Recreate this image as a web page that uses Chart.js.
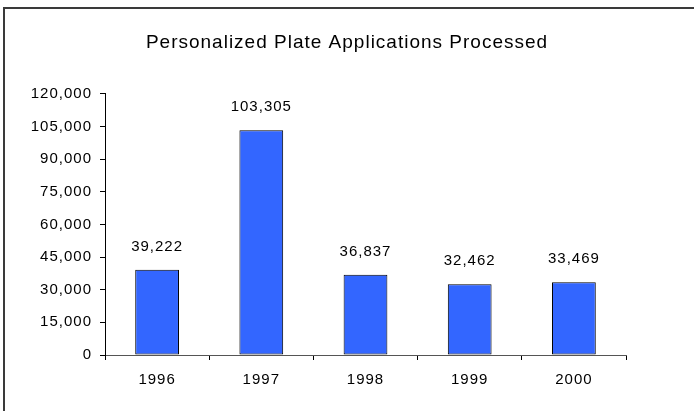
<!DOCTYPE html>
<html>
<head>
<meta charset="utf-8">
<script src="https://cdn.jsdelivr.net/npm/chart.js@4/dist/chart.umd.min.js"></script>
<style>
  html, body { margin: 0; padding: 0; background: #fff; }
  #wrap { width: 694px; height: 411px; position: relative; }
</style>
</head>
<body>
<div id="wrap"><canvas id="plates"></canvas></div>
<script>
// chart data
var years = ['1996', '1997', '1998', '1999', '2000'];
var applications = [39222, 103305, 36837, 32462, 33469];
var yTicks = [0, 15000, 30000, 45000, 60000, 75000, 90000, 105000, 120000];

var FONT = 'Liberation Sans, Arial, sans-serif';
var fmt = function (v) { return v.toLocaleString('en-US'); };

// frame lines + letter spacing like the old Excel export
var framePlugin = {
  id: 'frame',
  beforeDraw: function (chart) {
    var ctx = chart.ctx;
    ctx.letterSpacing = '1px';
    ctx.save();
    ctx.strokeStyle = '#3a3a3a';
    ctx.lineWidth = 2;
    ctx.beginPath();
    ctx.moveTo(4, 420);
    ctx.lineTo(4, 8);
    ctx.lineTo(700, 8);
    ctx.stroke();
    ctx.restore();
  },
  beforeTitleDraw: function (chart) {
    chart.ctx.letterSpacing = '1.4px';
  },
  afterTitleDraw: function (chart) {
    chart.ctx.letterSpacing = '1px';
  }
};

// value labels over the bars
var labelPlugin = {
  id: 'barLabels',
  afterDatasetsDraw: function (chart) {
    var ctx = chart.ctx;
    var meta = chart.getDatasetMeta(0);
    ctx.save();
    ctx.font = '15px ' + FONT;
    ctx.fillStyle = '#000';
    ctx.textAlign = 'center';
    ctx.textBaseline = 'middle';
    meta.data.forEach(function (bar, i) {
      ctx.fillText(fmt(applications[i]), bar.x, bar.y - 23);
    });
    ctx.restore();
  }
};

new Chart(document.getElementById('plates'), {
  type: 'bar',
  data: {
    labels: years,
    datasets: [{
      data: applications,
      backgroundColor: '#3366FF',
      borderColor: '#000',
      borderWidth: 1,
      borderSkipped: false,
      categoryPercentage: 1,
      barPercentage: 0.42
    }]
  },
  options: {
    responsive: true,
    maintainAspectRatio: false,
    animation: false,
    layout: { padding: 0 },
    plugins: {
      legend: { display: false },
      tooltip: { enabled: false },
      title: {
        display: true,
        text: 'Personalized Plate Applications Processed',
        color: '#000',
        font: { family: FONT, size: 19, weight: 'normal' },
        padding: { top: 31, bottom: 40 }
      }
    },
    scales: {
      x: {
        offset: true,
        border: { color: '#555', width: 1 },
        grid: { drawOnChartArea: false, drawTicks: true, tickLength: 5, color: '#000', offset: true },
        ticks: { color: '#000', font: { family: FONT, size: 15 }, padding: 11 },
        afterFit: function (s) { s.height = 56; }
      },
      y: {
        min: 0,
        max: 120000,
        border: { color: '#000', width: 1 },
        grid: { drawOnChartArea: false, drawTicks: true, tickLength: 5, color: '#000' },
        afterBuildTicks: function (s) { s.ticks = yTicks.map(function (v) { return { value: v }; }); },
        ticks: {
          color: '#000',
          font: { family: FONT, size: 15 },
          padding: 8,
          callback: function (v) { return fmt(v); }
        },
        afterFit: function (s) { s.width = 105; }
      },
      // empty right-hand axis that only reserves the blank margin
      yRight: {
        position: 'right',
        min: 0,
        max: 120000,
        border: { display: false },
        grid: { display: false },
        ticks: { display: false },
        afterFit: function (s) { s.width = 68; }
      }
    }
  },
  plugins: [framePlugin, labelPlugin]
});
</script>
</body>
</html>
